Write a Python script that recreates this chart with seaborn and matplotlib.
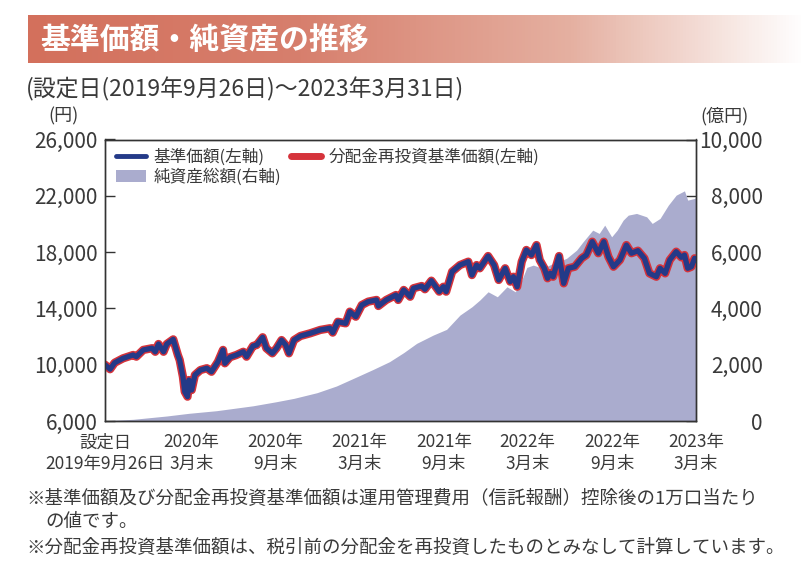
import numpy as np
import pandas as pd
import matplotlib
matplotlib.use("Agg")
import matplotlib.pyplot as plt
from matplotlib.colors import LinearSegmentedColormap
from matplotlib.lines import Line2D
from matplotlib.patches import Patch
import seaborn as sns

sns.set_style("white")
plt.rcParams["font.family"] = ["Noto Sans CJK JP", "DejaVu Sans"]

# ---------------- data ----------------
nav_dates = ["2019-09-26","2019-10-07","2019-10-17","2019-11-04","2019-11-26","2019-12-03","2019-12-18",
             "2020-01-06","2020-01-13","2020-01-20","2020-01-31","2020-02-07","2020-02-21","2020-03-02",
             "2020-03-06","2020-03-13","2020-03-17","2020-03-23","2020-03-26","2020-04-01","2020-04-08",
             "2020-04-20","2020-05-04","2020-05-14","2020-05-28","2020-06-08","2020-06-12","2020-06-23",
             "2020-07-07","2020-07-22","2020-07-29","2020-08-12","2020-08-20","2020-09-02","2020-09-10",
             "2020-09-23","2020-10-02","2020-10-13","2020-10-22","2020-10-29","2020-11-09","2020-11-23",
             "2020-12-14","2021-01-05","2021-01-26","2021-02-01","2021-02-12","2021-03-01","2021-03-10",
             "2021-03-23","2021-04-05","2021-04-19","2021-05-07","2021-05-11","2021-05-28","2021-06-18",
             "2021-06-23","2021-07-05","2021-07-19","2021-07-26","2021-08-13","2021-08-20","2021-09-03",
             "2021-09-20","2021-09-29","2021-10-05","2021-10-18","2021-11-04","2021-11-22","2021-11-30",
             "2021-12-10","2021-12-17","2022-01-04","2022-01-17","2022-01-27","2022-02-10","2022-02-21",
             "2022-02-28","2022-03-08","2022-03-18","2022-03-28","2022-04-08","2022-04-19","2022-04-26",
             "2022-05-06","2022-05-13","2022-05-19","2022-05-25","2022-06-07","2022-06-17","2022-06-27",
             "2022-07-11","2022-07-26","2022-08-05","2022-08-18","2022-08-31","2022-09-12","2022-09-22",
             "2022-10-03","2022-10-17","2022-10-31","2022-11-11","2022-11-25","2022-12-09","2022-12-20",
             "2023-01-04","2023-01-12","2023-01-23","2023-02-02","2023-02-16","2023-02-27","2023-03-06",
             "2023-03-13","2023-03-21","2023-03-28","2023-03-31"]
nav_values = [10000, 9680, 10140, 10450, 10690, 10570, 11050,
              11170, 10920, 11470, 10920, 11470, 11800, 10690,
              10330, 9150, 8080, 7730, 8910, 8200, 9270,
              9620, 9750, 9500, 10210, 11050, 10100, 10530,
              10690, 10920, 10570, 11330, 11400, 11950, 11170,
              10810, 11170, 11750, 11400, 10810, 11750, 12040,
              12230, 12470, 12590, 12280, 13050, 12940, 13770,
              13410, 14240, 14480, 14600, 14170, 14600, 14950,
              14600, 15310, 14830, 15430, 15590, 15360, 15970,
              15190, 15540, 15190, 16610, 17080, 17320, 16370,
              17080, 16850, 17720, 17080, 16020, 16850, 15900,
              16250, 15540, 17320, 18150, 17790, 18500, 17440,
              16850, 16140, 16500, 16250, 17720, 15780, 16850,
              16960, 17560, 17790, 18740, 17920, 18740, 17670,
              16960, 17440, 18500, 17920, 18100, 17560, 16490,
              16250, 16850, 16490, 17440, 18030, 17630, 17790,
              16850, 16960, 17560, 17400]
# 分配金再投資基準価額 (no distributions -> identical to NAV)
reinvest_values = list(nav_values)

asset_dates = ["2019-09-26","2019-11-26","2020-02-07","2020-03-26","2020-05-25","2020-08-12","2020-10-02",
               "2020-11-09","2020-12-29","2021-02-09","2021-03-26","2021-04-30","2021-06-04","2021-07-05",
               "2021-08-02","2021-09-07","2021-10-06","2021-11-04","2021-11-30","2021-12-17","2022-01-04",
               "2022-01-24","2022-02-14","2022-03-04","2022-03-18","2022-03-29","2022-04-12","2022-05-03",
               "2022-05-25","2022-06-23","2022-07-15","2022-07-29","2022-08-19","2022-09-02","2022-09-14",
               "2022-09-29","2022-10-11","2022-10-24","2022-11-04","2022-11-22","2022-12-14","2022-12-26",
               "2023-01-12","2023-01-30","2023-02-16","2023-03-06","2023-03-13","2023-03-28","2023-03-31"]
asset_values = [10, 60, 178, 273, 366, 540, 686,
                805, 1006, 1243, 1574, 1834, 2106, 2430,
                2758, 3053, 3255, 3763, 4058, 4296, 4590,
                4413, 4768, 4590, 5006, 5456, 5538, 5420,
                5598, 5776, 6070, 6366, 6780, 6663, 6958,
                6543, 6780, 7135, 7313, 7373, 7253, 7018,
                7196, 7668, 8023, 8176, 7846, 7906, 7950]

tick_dates = ["2019-09-26","2020-03-31","2020-09-30","2021-03-31","2021-09-30","2022-03-31","2022-09-30","2023-03-31"]
tick_labels = ["設定日\n2019年9月26日","2020年\n3月末","2020年\n9月末","2021年\n3月末","2021年\n9月末",
               "2022年\n3月末","2022年\n9月末","2023年\n3月末"]
left_ticks = [6000, 10000, 14000, 18000, 22000, 26000]
right_ticks = [0, 2000, 4000, 6000, 8000, 10000]

nav_df = pd.DataFrame({"date": pd.to_datetime(nav_dates), "nav": nav_values, "reinvest": reinvest_values})
asset_df = pd.DataFrame({"date": pd.to_datetime(asset_dates), "assets": asset_values})

# ---------------- colors ----------------
BG = "#fcefdd"
AREA = "#aaacce"
BLUE = "#243a88"
RED = "#d5333b"
TXT = "#3a3a3a"

fig = plt.figure(figsize=(8.04, 5.74), dpi=100)
W, H = 804, 574

def fx(px):
    return px / W
def fy(py):
    return 1 - py / H

# title bar with gradient
tax = fig.add_axes([fx(28), fy(63), 1 - fx(28), (63 - 15) / H])
cmap = LinearSegmentedColormap.from_list("bar", [(0.0, "#d3705c"), (0.35, "#d77f6d"), (0.7, "#e5b0a1"), (1.0, "#ffffff")])
tax.imshow(np.linspace(0, 1, 256).reshape(1, -1), aspect="auto", cmap=cmap, extent=[0, 1, 0, 1])
tax.set_axis_off()
fig.text(fx(40), fy(40), "基準価額・純資産の推移", color="white", fontsize=21.5, fontweight="bold", va="center", ha="left")

fig.text(fx(26), fy(89), "(設定日(2019年9月26日)～2023年3月31日)", color=TXT, fontsize=16.5, va="center", ha="left")
fig.text(fx(48), fy(116), "(円)", color=TXT, fontsize=13, va="center", ha="left")
fig.text(fx(700), fy(116), "(億円)", color=TXT, fontsize=13, va="center", ha="left")

# main axes
ax = fig.add_axes([fx(105), fy(421), (696 - 105) / W, (421 - 139.5) / H])
ax2 = ax.twinx()
ax.set_zorder(ax2.get_zorder() + 1)
ax.patch.set_visible(False)
ax2.set_facecolor(BG)

ax2.fill_between(asset_df["date"], 0, asset_df["assets"], color=AREA, linewidth=0)
sns.lineplot(data=nav_df, x="date", y="reinvest", ax=ax, color=RED, linewidth=6.0, legend=False)
sns.lineplot(data=nav_df, x="date", y="nav", ax=ax, color=BLUE, linewidth=3.8, legend=False)

ax.set_xlim(pd.Timestamp(tick_dates[0]), pd.Timestamp(tick_dates[-1]))
ax.set_ylim(6000, 26000)
ax2.set_ylim(0, 10000)
ax.set_xlabel("")
ax.set_ylabel("")
ax2.set_ylabel("")

ax.set_yticks(left_ticks)
ax.set_yticklabels([f"{v:,}" for v in left_ticks])
ax2.set_yticks(right_ticks)
ax2.set_yticklabels([f"{v:,}" for v in right_ticks])
ax.set_xticks(pd.to_datetime(tick_dates))
ax.set_xticklabels(tick_labels, linespacing=1.25)

ax.tick_params(axis="y", direction="in", length=7, width=1.0, color="#333333", labelsize=15, labelcolor=TXT, pad=5)
ax.tick_params(axis="x", direction="in", length=7, width=1.0, color="#333333", labelsize=12.5, labelcolor=TXT, pad=9)
ax2.tick_params(axis="y", direction="in", length=7, width=1.0, color="#333333", labelsize=15, labelcolor=TXT, pad=48)
for lbl in ax2.get_yticklabels():
    lbl.set_horizontalalignment("right")

for a in (ax, ax2):
    for s in a.spines.values():
        s.set_color("#333333")
        s.set_linewidth(1.0)

handles = [Line2D([], [], color=BLUE, linewidth=3.5),
           Patch(facecolor=AREA, edgecolor="none"),
           Line2D([], [], color=RED, linewidth=5)]
labels = ["基準価額(左軸)", "純資産総額(右軸)", "分配金再投資基準価額(左軸)"]
leg = ax.legend(handles, labels, ncol=2, loc="upper left", bbox_to_anchor=(0.0085, 0.988),
                borderaxespad=0, frameon=True, fancybox=False, framealpha=1, edgecolor="white",
                facecolor="white", fontsize=12, handlelength=1.8, handletextpad=0.45,
                columnspacing=0.6, labelspacing=0.15, borderpad=0.35)
for t in leg.get_texts():
    t.set_color(TXT)

fig.text(fx(26), fy(498), "※基準価額及び分配金再投資基準価額は運用管理費用（信託報酬）控除後の1万口当たり",
         color=TXT, fontsize=13.3, va="center", ha="left")
fig.text(fx(45), fy(522), "の値です。", color=TXT, fontsize=13.3, va="center", ha="left")
fig.text(fx(26), fy(547), "※分配金再投資基準価額は、税引前の分配金を再投資したものとみなして計算しています。",
         color=TXT, fontsize=13.3, va="center", ha="left")

fig.savefig("out.png", dpi=100, facecolor="white")
